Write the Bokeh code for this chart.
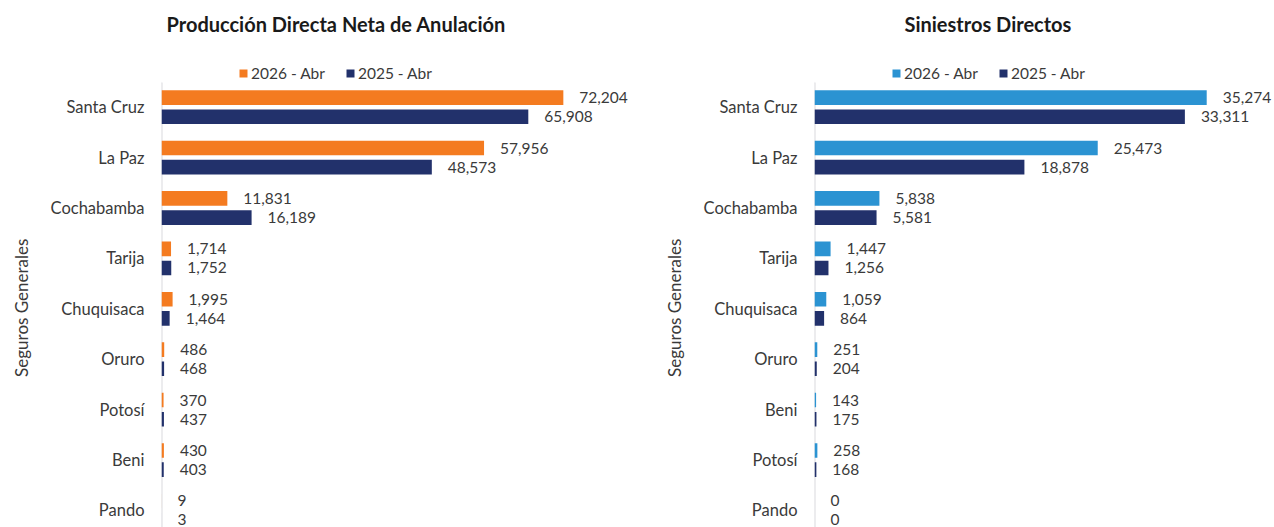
from bokeh.plotting import figure
from bokeh.models import (Range1d, FixedTicker, ColumnDataSource, Legend, LegendItem,
                          BoxAnnotation)
from bokeh.layouts import row
from bokeh.embed import file_html
from bokeh.resources import INLINE
from bokeh.core.properties import value

# ---- data ----
cats_prod = ["Santa Cruz", "La Paz", "Cochabamba", "Tarija", "Chuquisaca", "Oruro", "Potosí", "Beni", "Pando"]
prod_2026 = [72204, 57956, 11831, 1714, 1995, 486, 370, 430, 9]
prod_2025 = [65908, 48573, 16189, 1752, 1464, 468, 437, 403, 3]

cats_sin = ["Santa Cruz", "La Paz", "Cochabamba", "Tarija", "Chuquisaca", "Oruro", "Beni", "Potosí", "Pando"]
sin_2026 = [35274, 25473, 5838, 1447, 1059, 251, 143, 258, 0]
sin_2025 = [33311, 18878, 5581, 1256, 864, 204, 175, 168, 0]

series_labels = ["2026 - Abr", "2025 - Abr"]
group_label = "Seguros Generales"

FONT = "Lato"
TXT = "#3a3a3a"
NAVY = "#22316b"
GRID = "#d9d9de"

Y_TOP = -1.244       # frame top (above first category, room for legend)
Y_AXIS_TOP = -0.49   # where the category axis line starts
Y_BOTTOM = 8.339
BORDER_LEFT = 161


def make_chart(title, cats, v26, v25, c26, xmax, width, title_offset):
    n = len(cats)
    idx = list(range(n))
    p = figure(width=width, height=527, output_backend="svg", toolbar_location=None,
               x_axis_location=None, x_range=Range1d(0, xmax),
               y_range=Range1d(Y_BOTTOM, Y_TOP),
               min_border_left=BORDER_LEFT, min_border_right=0, min_border_top=44,
               min_border_bottom=0)
    p.outline_line_color = None
    p.xgrid.visible = False
    p.ygrid.visible = False

    # category axis line (starts below the legend) and group box top edge
    p.segment(x0=[0], y0=[Y_AXIS_TOP], x1=[0], y1=[Y_BOTTOM + 1],
              line_color=GRID, line_width=2)
    frame_w = width - BORDER_LEFT
    p.add_layout(BoxAnnotation(left=-153 * xmax / frame_w, right=0,
                               top=Y_AXIS_TOP, bottom=Y_AXIS_TOP,
                               fill_alpha=0, line_color=GRID, line_width=1.5))

    s26 = ColumnDataSource(dict(y=[i - 0.19 for i in idx], v=v26,
                                lab=["{:,}".format(v) for v in v26]))
    s25 = ColumnDataSource(dict(y=[i + 0.19 for i in idx], v=v25,
                                lab=["{:,}".format(v) for v in v25]))
    r26 = p.hbar(y="y", right="v", left=0, height=0.29, source=s26, color=c26, line_color=None)
    r25 = p.hbar(y="y", right="v", left=0, height=0.29, source=s25, color=NAVY, line_color=None)
    for s in (s26, s25):
        p.text(x="v", y="y", text="lab", source=s, x_offset=16, text_align="left",
               text_baseline="middle", text_font=value(FONT), text_font_size="15.5px",
               text_color=TXT)

    ax = p.yaxis[0]
    ax.ticker = FixedTicker(ticks=idx)
    ax.major_label_overrides = {i: c for i, c in enumerate(cats)}
    ax.major_tick_line_color = None
    ax.minor_tick_line_color = None
    ax.axis_line_color = None
    ax.major_label_standoff = 11
    ax.major_label_text_font = FONT
    ax.major_label_text_font_size = "16.5px"
    ax.major_label_text_color = TXT
    ax.axis_label = group_label + "\u00a0" * 10
    ax.axis_label_text_font = FONT
    ax.axis_label_text_font_size = "17px"
    ax.axis_label_text_font_style = "normal"
    ax.axis_label_text_color = TXT
    ax.axis_label_standoff = 16

    legend = Legend(items=[LegendItem(label=series_labels[0], renderers=[r26]),
                           LegendItem(label=series_labels[1], renderers=[r25])],
                    orientation="horizontal", location=(77, 445),
                    border_line_color=None, background_fill_alpha=0,
                    glyph_width=10, glyph_height=10, label_standoff=3, spacing=20,
                    label_height=16, padding=0, margin=0,
                    label_text_font=FONT, label_text_font_size="15.5px",
                    label_text_color=TXT)
    p.add_layout(legend, "center")

    p.title.text = title
    p.title.align = "left"
    p.title.offset = title_offset
    p.title.standoff = 18
    p.title.vertical_align = "bottom"
    p.title.text_font = FONT
    p.title.text_font_size = "20px"
    p.title.text_font_style = "bold"
    p.title.text_color = "#1a1a1a"
    return p


p1 = make_chart("Producción Directa Neta de Anulación", cats_prod, prod_2026, prod_2025,
                "#f47b20", 88404, 653, 5)
p2 = make_chart("Siniestros Directos", cats_sin, sin_2026, sin_2025,
                "#2b93d2", 41371, 621, 90)

layout = row(p1, p2)
open("out.html", "w").write(file_html(layout, INLINE))
